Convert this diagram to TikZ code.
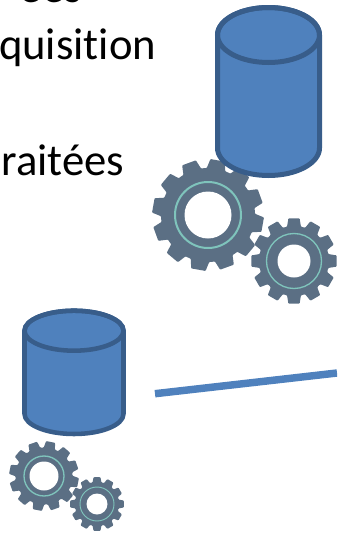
\documentclass[tikz,border=0pt]{standalone}
\usepackage{fontspec}
\setmainfont[Ligatures=CommonOff]{Carlito}
\usetikzlibrary{calc}
\definecolor{dbfill}{HTML}{4F81BD}
\definecolor{dbline}{HTML}{385D8A}
\definecolor{gearbody}{HTML}{5B6F84}
\definecolor{gearring}{HTML}{7FC4BC}
% centre, outer radius, root radius, hole radius, ring radius, ring width, start angle (radii in px)
\newcommand{\gearwheel}[7]{
  \fill[gearbody,rounded corners=0.6pt] ($(#1)+(#7-15:0.75pt*#3)$)
    \foreach \t in {0,...,11} {
      -- ($(#1)+(#7+\t*30-11.5:0.75pt*#3)$) -- ($(#1)+(#7+\t*30-7.5:0.75pt*#2)$)
      -- ($(#1)+(#7+\t*30+7.5:0.75pt*#2)$) -- ($(#1)+(#7+\t*30+11.5:0.75pt*#3)$)
      -- ($(#1)+(#7+\t*30+15:0.75pt*#3)$)
    } -- cycle;
  \draw[gearring,line width=#6] (#1) circle (0.75pt*#5);
  \fill[white] (#1) circle (0.75pt*#4);
}
% top centre, bottom centre, x radius, y radius, line width
\newcommand{\dbdrum}[5]{
  \draw[dbline,fill=dbfill,line width=#5,line join=round]
    ($(#1)+(-0.75pt*#3,0)$) -- ($(#2)+(-0.75pt*#3,0)$)
    arc[start angle=180,end angle=360,x radius=0.75pt*#3,y radius=0.75pt*#4]
    -- ($(#1)+(0.75pt*#3,0)$)
    arc[start angle=0,end angle=180,x radius=0.75pt*#3,y radius=0.75pt*#4] -- cycle;
  \draw[dbline,line width=#5] (#1) ellipse [x radius=0.75pt*#3,y radius=0.75pt*#4];
}
\begin{document}
\begin{tikzpicture}[x=0.75pt,y=-0.75pt,
  txt/.style={anchor=base east,inner sep=0pt,font=\fontsize{33.5}{40}\selectfont}]
\useasboundingbox (0,0) rectangle (337,533);
\clip (0,0) rectangle (337,533);
\node[txt] (t1) at (82,2.5) {ées};
\node[txt] (t2) at (156.5,59.5) {quisition};
\node[txt] (t3) at (124.5,175.7) {raitées};
\gearwheel{294,261}{43}{35}{16.5}{27.5}{1pt}{0}
\gearwheel{208,215}{56}{47}{23.5}{33}{1.5pt}{20}
\dbdrum{268.5,35}{268.5,148}{51}{27.5}{3.75pt}
\gearwheel{97,504}{27}{22}{10.5}{17}{0.7pt}{0}
\gearwheel{44,476}{35}{28.5}{14.5}{20}{1pt}{19}
\dbdrum{74,330.7}{74,414}{49.5}{20}{3.4pt}
\coordinate (l1) at (155,393.7);
\coordinate (l2) at (337,373);
\draw[dbfill,line width=5.6pt] (l1) -- (l2);
\end{tikzpicture}
\end{document}
